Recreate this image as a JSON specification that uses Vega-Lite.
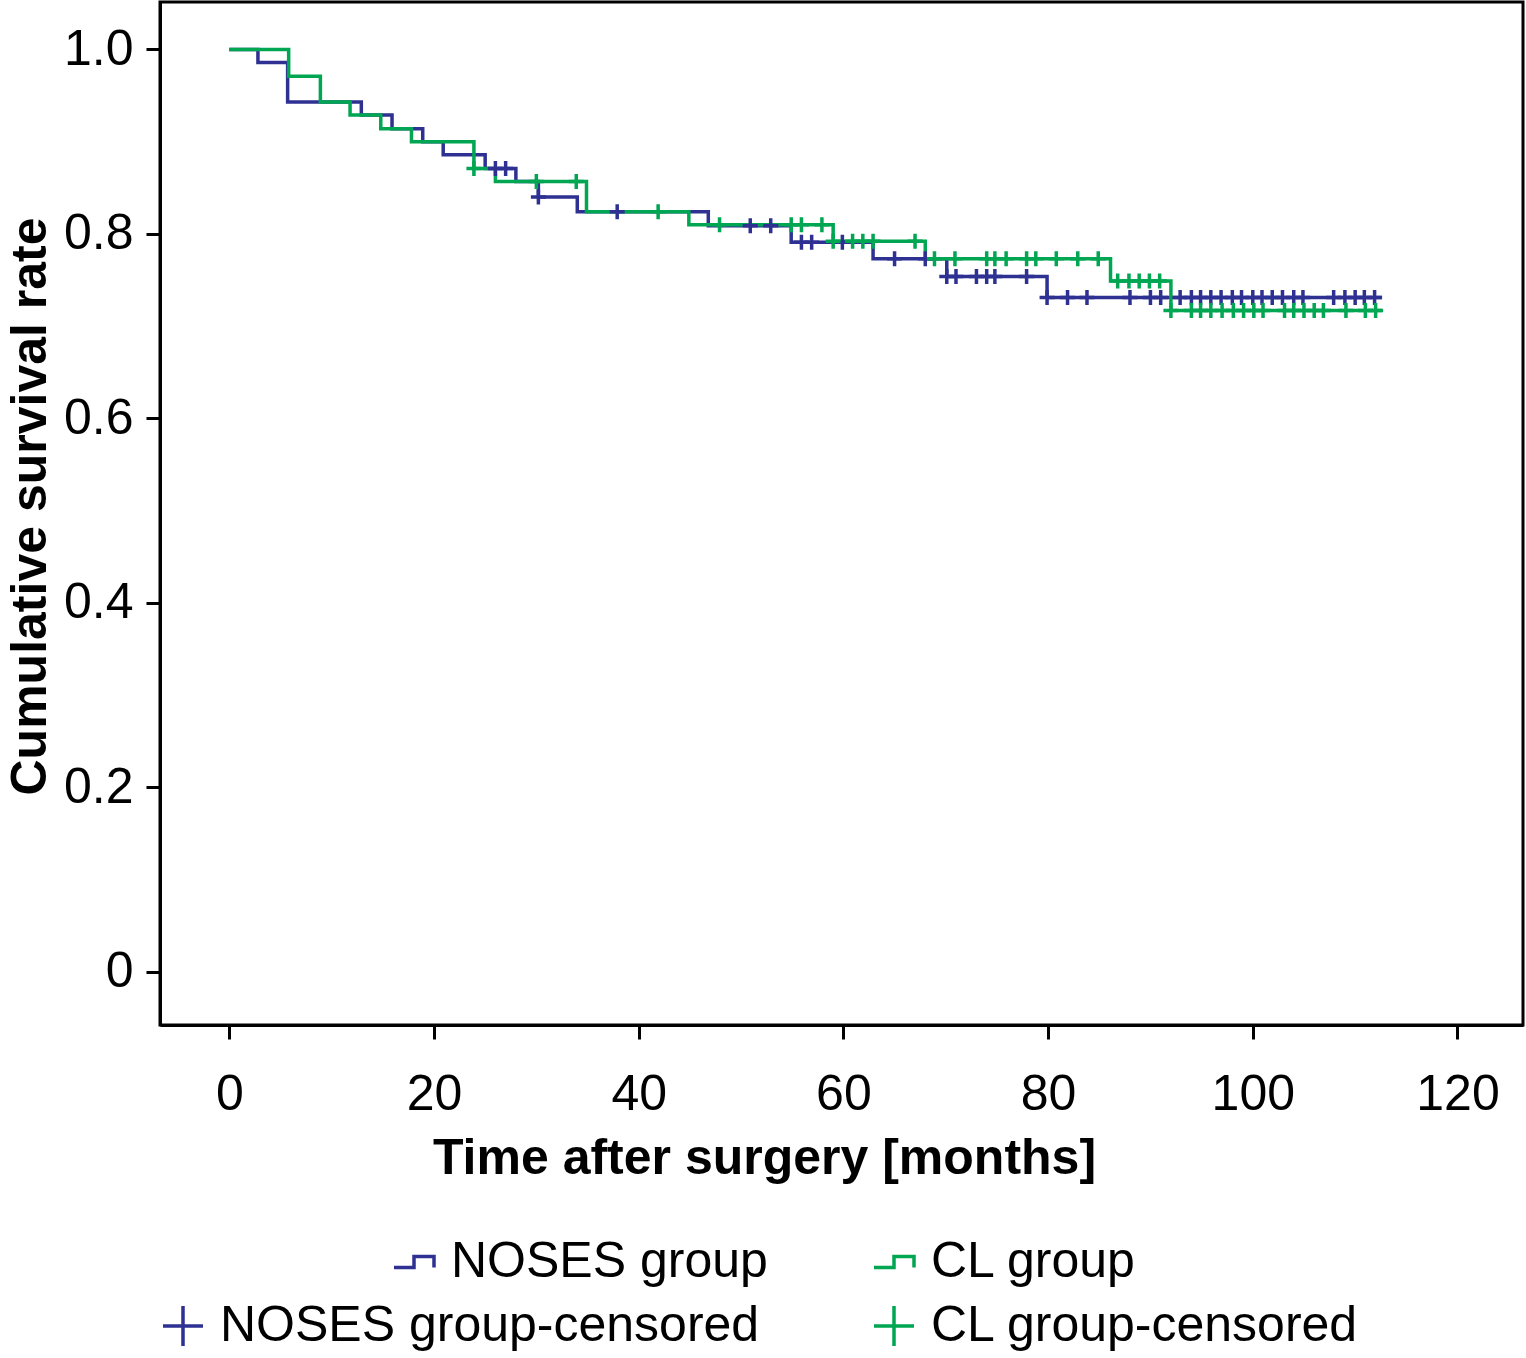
{
  "$schema": "https://vega.github.io/schema/vega-lite/v6.json",
  "width": 1363,
  "height": 1023,
  "autosize": {"type": "none"},
  "padding": {"left": 160, "top": 2, "right": 3, "bottom": 333},
  "background": "white",
  "config": {
    "font": "Liberation Sans",
    "view": {"stroke": "black", "strokeWidth": 3},
    "axis": {
      "domainColor": "black", "domainWidth": 3,
      "tickColor": "black", "tickWidth": 3, "tickSize": 14,
      "labelFont": "Liberation Sans", "labelFontSize": 50, "labelColor": "black",
      "titleFont": "Liberation Sans", "titleFontSize": 50, "titleFontWeight": "bold", "titleColor": "black",
      "grid": false
    },
    "legend": {
      "labelFont": "Liberation Sans", "labelFontSize": 50, "labelColor": "black",
      "labelOffset": 12, "padding": 0, "rowPadding": 0, "labelLimit": 0
    }
  },
  "datasets": {
    "curves": [
      {"time": 0, "surv": 1.0, "series": "NOSES group"},
      {"time": 2.8, "surv": 0.986, "series": "NOSES group"},
      {"time": 5.7, "surv": 0.943, "series": "NOSES group"},
      {"time": 12.9, "surv": 0.929, "series": "NOSES group"},
      {"time": 15.9, "surv": 0.914, "series": "NOSES group"},
      {"time": 18.9, "surv": 0.900, "series": "NOSES group"},
      {"time": 20.9, "surv": 0.886, "series": "NOSES group"},
      {"time": 25.0, "surv": 0.871, "series": "NOSES group"},
      {"time": 28.0, "surv": 0.857, "series": "NOSES group"},
      {"time": 30.2, "surv": 0.840, "series": "NOSES group"},
      {"time": 34.0, "surv": 0.824, "series": "NOSES group"},
      {"time": 46.8, "surv": 0.809, "series": "NOSES group"},
      {"time": 54.9, "surv": 0.791, "series": "NOSES group"},
      {"time": 62.9, "surv": 0.773, "series": "NOSES group"},
      {"time": 70.1, "surv": 0.754, "series": "NOSES group"},
      {"time": 79.9, "surv": 0.731, "series": "NOSES group"},
      {"time": 112.6, "surv": 0.731, "series": "NOSES group"},
      {"time": 0, "surv": 1.0, "series": "CL group"},
      {"time": 5.8, "surv": 0.971, "series": "CL group"},
      {"time": 8.9, "surv": 0.943, "series": "CL group"},
      {"time": 11.8, "surv": 0.929, "series": "CL group"},
      {"time": 14.8, "surv": 0.914, "series": "CL group"},
      {"time": 17.8, "surv": 0.900, "series": "CL group"},
      {"time": 23.9, "surv": 0.871, "series": "CL group"},
      {"time": 26.0, "surv": 0.857, "series": "CL group"},
      {"time": 34.9, "surv": 0.824, "series": "CL group"},
      {"time": 44.9, "surv": 0.810, "series": "CL group"},
      {"time": 59.0, "surv": 0.792, "series": "CL group"},
      {"time": 68.0, "surv": 0.773, "series": "CL group"},
      {"time": 86.1, "surv": 0.749, "series": "CL group"},
      {"time": 92.0, "surv": 0.717, "series": "CL group"},
      {"time": 112.6, "surv": 0.717, "series": "CL group"}
    ],
    "censored": [
      {"time": 26.0, "surv": 0.871, "series": "NOSES group-censored"},
      {"time": 27.0, "surv": 0.871, "series": "NOSES group-censored"},
      {"time": 30.2, "surv": 0.840, "series": "NOSES group-censored"},
      {"time": 37.9, "surv": 0.824, "series": "NOSES group-censored"},
      {"time": 50.9, "surv": 0.809, "series": "NOSES group-censored"},
      {"time": 52.9, "surv": 0.809, "series": "NOSES group-censored"},
      {"time": 55.9, "surv": 0.791, "series": "NOSES group-censored"},
      {"time": 56.9, "surv": 0.791, "series": "NOSES group-censored"},
      {"time": 59.9, "surv": 0.791, "series": "NOSES group-censored"},
      {"time": 65.0, "surv": 0.773, "series": "NOSES group-censored"},
      {"time": 68.0, "surv": 0.773, "series": "NOSES group-censored"},
      {"time": 70.1, "surv": 0.754, "series": "NOSES group-censored"},
      {"time": 71.0, "surv": 0.754, "series": "NOSES group-censored"},
      {"time": 73.0, "surv": 0.754, "series": "NOSES group-censored"},
      {"time": 74.0, "surv": 0.754, "series": "NOSES group-censored"},
      {"time": 74.8, "surv": 0.754, "series": "NOSES group-censored"},
      {"time": 77.9, "surv": 0.754, "series": "NOSES group-censored"},
      {"time": 79.9, "surv": 0.731, "series": "NOSES group-censored"},
      {"time": 81.9, "surv": 0.731, "series": "NOSES group-censored"},
      {"time": 83.8, "surv": 0.731, "series": "NOSES group-censored"},
      {"time": 88.0, "surv": 0.731, "series": "NOSES group-censored"},
      {"time": 90.0, "surv": 0.731, "series": "NOSES group-censored"},
      {"time": 91.0, "surv": 0.731, "series": "NOSES group-censored"},
      {"time": 92.9, "surv": 0.731, "series": "NOSES group-censored"},
      {"time": 94.0, "surv": 0.731, "series": "NOSES group-censored"},
      {"time": 94.9, "surv": 0.731, "series": "NOSES group-censored"},
      {"time": 95.9, "surv": 0.731, "series": "NOSES group-censored"},
      {"time": 96.9, "surv": 0.731, "series": "NOSES group-censored"},
      {"time": 98.0, "surv": 0.731, "series": "NOSES group-censored"},
      {"time": 98.9, "surv": 0.731, "series": "NOSES group-censored"},
      {"time": 100.0, "surv": 0.731, "series": "NOSES group-censored"},
      {"time": 100.9, "surv": 0.731, "series": "NOSES group-censored"},
      {"time": 101.9, "surv": 0.731, "series": "NOSES group-censored"},
      {"time": 102.9, "surv": 0.731, "series": "NOSES group-censored"},
      {"time": 104.0, "surv": 0.731, "series": "NOSES group-censored"},
      {"time": 104.9, "surv": 0.731, "series": "NOSES group-censored"},
      {"time": 107.9, "surv": 0.731, "series": "NOSES group-censored"},
      {"time": 109.0, "surv": 0.731, "series": "NOSES group-censored"},
      {"time": 110.0, "surv": 0.731, "series": "NOSES group-censored"},
      {"time": 110.9, "surv": 0.731, "series": "NOSES group-censored"},
      {"time": 111.9, "surv": 0.731, "series": "NOSES group-censored"},
      {"time": 23.9, "surv": 0.871, "series": "CL group-censored"},
      {"time": 30.0, "surv": 0.857, "series": "CL group-censored"},
      {"time": 33.9, "surv": 0.857, "series": "CL group-censored"},
      {"time": 41.9, "surv": 0.824, "series": "CL group-censored"},
      {"time": 47.9, "surv": 0.810, "series": "CL group-censored"},
      {"time": 54.9, "surv": 0.810, "series": "CL group-censored"},
      {"time": 55.9, "surv": 0.810, "series": "CL group-censored"},
      {"time": 57.9, "surv": 0.810, "series": "CL group-censored"},
      {"time": 59.0, "surv": 0.792, "series": "CL group-censored"},
      {"time": 60.9, "surv": 0.792, "series": "CL group-censored"},
      {"time": 61.9, "surv": 0.792, "series": "CL group-censored"},
      {"time": 62.9, "surv": 0.792, "series": "CL group-censored"},
      {"time": 67.0, "surv": 0.792, "series": "CL group-censored"},
      {"time": 68.9, "surv": 0.773, "series": "CL group-censored"},
      {"time": 70.9, "surv": 0.773, "series": "CL group-censored"},
      {"time": 74.0, "surv": 0.773, "series": "CL group-censored"},
      {"time": 74.8, "surv": 0.773, "series": "CL group-censored"},
      {"time": 75.9, "surv": 0.773, "series": "CL group-censored"},
      {"time": 77.9, "surv": 0.773, "series": "CL group-censored"},
      {"time": 78.8, "surv": 0.773, "series": "CL group-censored"},
      {"time": 80.8, "surv": 0.773, "series": "CL group-censored"},
      {"time": 82.9, "surv": 0.773, "series": "CL group-censored"},
      {"time": 84.9, "surv": 0.773, "series": "CL group-censored"},
      {"time": 86.8, "surv": 0.749, "series": "CL group-censored"},
      {"time": 87.9, "surv": 0.749, "series": "CL group-censored"},
      {"time": 88.9, "surv": 0.749, "series": "CL group-censored"},
      {"time": 89.9, "surv": 0.749, "series": "CL group-censored"},
      {"time": 90.9, "surv": 0.749, "series": "CL group-censored"},
      {"time": 92.0, "surv": 0.717, "series": "CL group-censored"},
      {"time": 94.0, "surv": 0.717, "series": "CL group-censored"},
      {"time": 94.9, "surv": 0.717, "series": "CL group-censored"},
      {"time": 95.9, "surv": 0.717, "series": "CL group-censored"},
      {"time": 97.0, "surv": 0.717, "series": "CL group-censored"},
      {"time": 98.1, "surv": 0.717, "series": "CL group-censored"},
      {"time": 99.1, "surv": 0.717, "series": "CL group-censored"},
      {"time": 100.1, "surv": 0.717, "series": "CL group-censored"},
      {"time": 101.0, "surv": 0.717, "series": "CL group-censored"},
      {"time": 103.1, "surv": 0.717, "series": "CL group-censored"},
      {"time": 104.0, "surv": 0.717, "series": "CL group-censored"},
      {"time": 105.0, "surv": 0.717, "series": "CL group-censored"},
      {"time": 106.0, "surv": 0.717, "series": "CL group-censored"},
      {"time": 106.9, "surv": 0.717, "series": "CL group-censored"},
      {"time": 109.1, "surv": 0.717, "series": "CL group-censored"},
      {"time": 111.0, "surv": 0.717, "series": "CL group-censored"},
      {"time": 112.0, "surv": 0.717, "series": "CL group-censored"}
    ]
  },
  "layer": [
    {
      "data": {"name": "curves"},
      "mark": {"type": "line", "interpolate": "step-after", "strokeWidth": 3.5},
      "encoding": {
        "x": {
          "field": "time", "type": "quantitative",
          "scale": {"domain": [-6.77, 126.4], "nice": false, "zero": false},
          "axis": {"values": [0, 20, 40, 60, 80, 100, 120], "title": "Time after surgery [months]", "labelPadding": 30, "titlePadding": 14, "titleX": 604, "titleAlign": "center"}
        },
        "y": {
          "field": "surv", "type": "quantitative",
          "scale": {"domain": [-0.0577, 1.0515], "nice": false, "zero": false},
          "axis": {
            "values": [0, 0.2, 0.4, 0.6, 0.8, 1.0],
            "labelExpr": "datum.value == 0 ? '0' : format(datum.value, '.1f')",
            "title": "Cumulative survival rate", "labelPadding": 13, "titlePadding": 8, "titleY": 504, "titleAlign": "center"
          }
        },
        "stroke": {
          "field": "series", "type": "nominal",
          "scale": {"domain": ["NOSES group", "CL group"], "range": ["#2e3192", "#00a651"]},
          "legend": {
            "title": null, "orient": "none", "legendX": 229, "legendY": 1235,
            "direction": "horizontal", "columnPadding": 99,
            "symbolType": "M-1,0.28H0V-0.28H1V0.28", "symbolSize": 1600,
            "symbolStrokeWidth": 3.5, "symbolFillColor": "transparent",
            "encode": {"symbols": {"update": {"fill": {"value": "transparent"}}}}
          }
        }
      }
    },
    {
      "data": {"name": "censored"},
      "mark": {"type": "point", "shape": "M-1,0H1M0,-1V1", "filled": false, "size": 225, "strokeWidth": 3.5, "opacity": 1},
      "encoding": {
        "x": {"field": "time", "type": "quantitative"},
        "y": {"field": "surv", "type": "quantitative"},
        "color": {
          "field": "series", "type": "nominal",
          "scale": {"domain": ["NOSES group-censored", "CL group-censored"], "range": ["#2e3192", "#00a651"]},
          "legend": {
            "title": null, "orient": "none", "legendX": -2, "legendY": 1299,
            "direction": "horizontal", "columnPadding": 107,
            "symbolType": "M-1,0H1M0,-1V1", "symbolSize": 1600,
            "symbolStrokeWidth": 3.5, "symbolOpacity": 1
          }
        }
      }
    }
  ]
}
